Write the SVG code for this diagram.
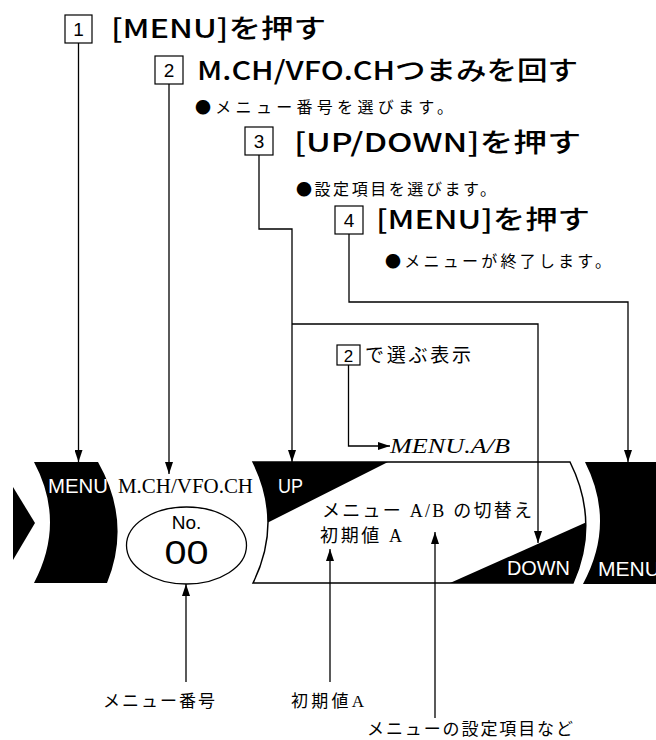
<svg xmlns="http://www.w3.org/2000/svg" width="656" height="740" viewBox="0 0 656 740">
<defs>
<style>
.box{fill:#fff;stroke:#000;stroke-width:1.2}
.num{font-family:"Liberation Sans",Arial,sans-serif;font-size:19px;text-anchor:middle;fill:#000}
.head{font-family:"Noto Sans CJK JP",sans-serif;font-size:26px;font-weight:500;fill:#000}
.bul{font-family:"Noto Sans CJK JP",sans-serif;font-size:16px;fill:#000}
.lab{font-family:"Liberation Serif","Noto Sans CJK JP",serif;font-size:17px;fill:#000}
.wt{font-family:"Liberation Sans",Arial,sans-serif;font-size:20px;fill:#fff}
.ln{fill:none;stroke:#000;stroke-width:1.3}
.blk{fill:#000}
</style>
<marker id="ah" viewBox="0 0 12 8" refX="12" refY="4" markerWidth="12" markerHeight="8" markerUnits="userSpaceOnUse" orient="auto">
<path d="M0,0 L12,4 L0,8 Z" fill="#000"/>
</marker>
</defs>
<rect width="656" height="740" fill="#fff"/>

<g id="step1">
<rect class="box" x="65" y="15" width="27" height="28"/>
<text class="num" x="78.5" y="36">1</text>
<text class="head" x="111" y="38" textLength="215" lengthAdjust="spacingAndGlyphs">[MENU]を押す</text>
</g>
<g id="step2">
<rect class="box" x="155" y="56" width="28" height="28"/>
<text class="num" x="169" y="77">2</text>
<text class="head" x="197" y="80" textLength="381" lengthAdjust="spacingAndGlyphs">M.CH/VFO.CHつまみを回す</text>
<text class="bul" x="195" y="113" textLength="258" lengthAdjust="spacing">●メニュー番号を選びます。</text>
</g>
<g id="step3">
<rect class="box" x="245" y="127" width="28" height="28"/>
<text class="num" x="259" y="148">3</text>
<text class="head" x="294" y="152" textLength="287" lengthAdjust="spacingAndGlyphs">[UP/DOWN]を押す</text>
<text class="bul" x="296" y="195" textLength="200" lengthAdjust="spacing">●設定項目を選びます。</text>
</g>
<g id="step4">
<rect class="box" x="335" y="206" width="28" height="28"/>
<text class="num" x="349" y="227">4</text>
<text class="head" x="376" y="229" textLength="214" lengthAdjust="spacingAndGlyphs">[MENU]を押す</text>
<text class="bul" x="385" y="267" textLength="226" lengthAdjust="spacing">●メニューが終了します。</text>
</g>

<g id="note">
<rect class="box" x="337" y="345" width="23" height="20"/>
<text class="num" x="348.5" y="362" style="font-size:17px">2</text>
<text class="lab" x="365" y="362" style="font-size:19px" textLength="106" lengthAdjust="spacing">で選ぶ表示</text>
<text x="390" y="453" style="font-family:'Liberation Serif',serif;font-style:italic;font-size:21px" textLength="120" lengthAdjust="spacingAndGlyphs">MENU.A/B</text>
</g>

<g id="left-arrow">
<path class="blk" d="M13,487 L35,523 L13,560 Z"/>
</g>
<g id="menu-left">
<path class="blk" d="M34,462 L98,462 Q132,522 107,583 L34,583 Q66,522 34,462 Z"/>
<text class="wt" x="48" y="493" textLength="60" lengthAdjust="spacingAndGlyphs">MENU</text>
</g>
<g id="channel">
<text x="118" y="493" style="font-family:'Liberation Serif',serif;font-size:20px" textLength="135" lengthAdjust="spacingAndGlyphs">M.CH/VFO.CH</text>
<ellipse cx="186.5" cy="545.5" rx="60" ry="38.5" fill="#fff" stroke="#000" stroke-width="1.3"/>
<text x="186.5" y="529" style="font-family:'Liberation Sans',Arial,sans-serif;font-size:19px;text-anchor:middle">No.</text>
<text x="186.5" y="564" style="font-family:'Liberation Sans',Arial,sans-serif;font-size:34px;text-anchor:middle" textLength="44" lengthAdjust="spacingAndGlyphs">00</text>
</g>
<g id="updown">
<path d="M253,462 L570,462 Q600,522 573,583 L253,583 Q283,522 253,462 Z" fill="#fff" stroke="#000" stroke-width="1.5"/>
<path class="blk" d="M253,462 L388,462 L268,522.5 Q268,492 253,462 Z"/>
<path class="blk" d="M450,583 L585.75,522.5 Q586.5,552.5 573,583 Z"/>
<text class="wt" x="278" y="493" textLength="25" lengthAdjust="spacingAndGlyphs">UP</text>
<text class="wt" x="507" y="575" textLength="63" lengthAdjust="spacingAndGlyphs">DOWN</text>
<text class="lab" x="322" y="517" style="font-size:18px" textLength="210" lengthAdjust="spacing">メニュー A/B の切替え</text>
<text class="lab" x="320" y="542" style="font-size:18px" textLength="82" lengthAdjust="spacing">初期値 A</text>
</g>
<g id="menu-right">
<path class="blk" d="M585,462 L656,462 L656,584 L583,584 Q616,523 585,462 Z"/>
<text class="wt" x="598" y="576" textLength="62" lengthAdjust="spacingAndGlyphs">MENU</text>
</g>

<g id="labels">
<text class="lab" x="103" y="707" textLength="112" lengthAdjust="spacing">メニュー番号</text>
<text class="lab" x="291" y="707" textLength="73" lengthAdjust="spacing">初期値A</text>
<text class="lab" x="367" y="735" textLength="206" lengthAdjust="spacing">メニューの設定項目など</text>
</g>

<g id="connectors">
<path class="ln" d="M78.5,43 V462" marker-end="url(#ah)"/>
<path class="ln" d="M169,84 V474" marker-end="url(#ah)"/>
<path class="ln" d="M259,155 V229 H292 V462" marker-end="url(#ah)"/>
<path class="ln" d="M292,324 H538 V543" marker-end="url(#ah)"/>
<path class="ln" d="M349,234 V302 H628 V462" marker-end="url(#ah)"/>
<path class="ln" d="M348.5,365 V446 H390" marker-end="url(#ah)"/>
<path class="ln" d="M186,682 V584" marker-end="url(#ah)"/>
<path class="ln" d="M330,682 V549" marker-end="url(#ah)"/>
<path class="ln" d="M435,718 V532" marker-end="url(#ah)"/>
</g>
</svg>
